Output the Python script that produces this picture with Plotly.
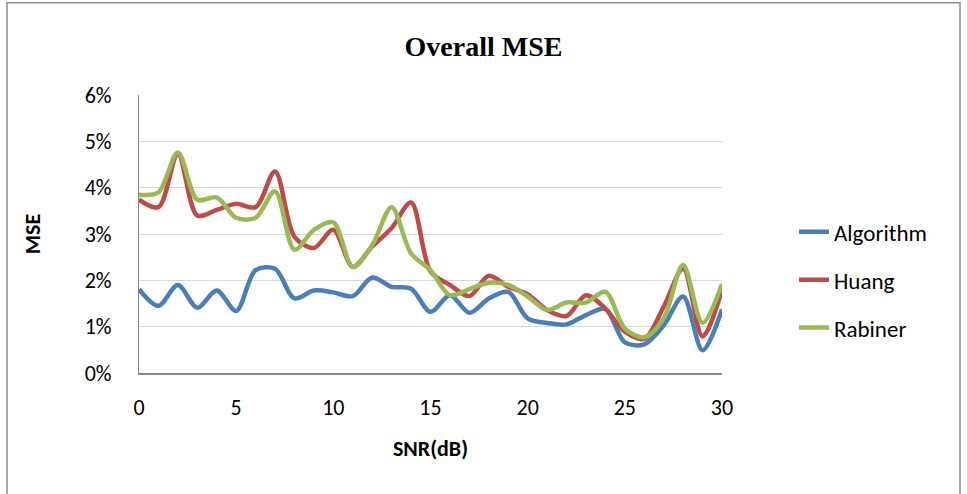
import plotly.graph_objects as go

# SNR sweep (dB)
snr = list(range(0, 31))

# Mean squared error (%) per method
algorithm = [1.81, 1.45, 1.90, 1.41, 1.78, 1.34, 2.22, 2.25, 1.61, 1.78,
             1.74, 1.66, 2.06, 1.86, 1.82, 1.32, 1.68, 1.30, 1.61, 1.75,
             1.18, 1.08, 1.05, 1.25, 1.38, 0.66, 0.62, 1.03, 1.65, 0.49, 1.37]
huang = [3.74, 3.58, 4.72, 3.40, 3.52, 3.65, 3.58, 4.35, 2.94, 2.70,
         3.09, 2.29, 2.73, 3.13, 3.68, 2.19, 1.90, 1.66, 2.10, 1.86,
         1.70, 1.36, 1.23, 1.68, 1.39, 0.89, 0.74, 1.43, 2.25, 0.79, 1.80]
rabiner = [3.85, 3.90, 4.76, 3.74, 3.79, 3.35, 3.35, 3.92, 2.66, 3.09,
           3.25, 2.29, 2.76, 3.58, 2.58, 2.22, 1.68, 1.81, 1.95, 1.90,
           1.65, 1.36, 1.52, 1.52, 1.75, 0.96, 0.77, 1.18, 2.33, 1.08, 1.92]

series = [("Algorithm", algorithm, "#4A7EBB"),
          ("Huang", huang, "#BE4B48"),
          ("Rabiner", rabiner, "#98B954")]

body_font = "Carlito, Lato, 'Open Sans', sans-serif"

fig = go.Figure()
for i, (name, vals, color) in enumerate(series):
    fig.add_trace(go.Scatter(
        x=snr, y=vals, name=name, mode="lines", legendgroup=f"g{i}",
        line=dict(color=color, width=4.5, shape="spline", smoothing=0.9),
    ))

fig.update_layout(
    width=967, height=494,
    margin=dict(l=139, r=245, t=95, b=121),
    paper_bgcolor="white", plot_bgcolor="white",
    title=dict(text="<b>Overall MSE</b>", x=0.5, xref="container", xanchor="center",
               y=1 - 46 / 494, yref="container", yanchor="middle",
               font=dict(family="'Liberation Serif', serif", size=28, color="black")),
    font=dict(family=body_font, size=22, color="black"),
    showlegend=True,
    legend=dict(x=1.1235, y=0.335, xanchor="left", yanchor="middle",
                font=dict(size=23, color="black"), tracegroupgap=15,
                bgcolor="rgba(0,0,0,0)"),
    xaxis=dict(range=[0, 30], tickvals=[0, 5, 10, 15, 20, 25, 30],
               showgrid=False, zeroline=False, showline=True,
               linecolor="#868686", linewidth=2, ticks="",
               ticklabelstandoff=14,
               title=dict(text="<b>SNR(dB)</b>", font=dict(size=22), standoff=20)),
    yaxis=dict(range=[0, 6], dtick=1, ticksuffix="%",
               showgrid=True, gridcolor="#D9D9D9", gridwidth=1.2,
               zeroline=False, showline=True, linecolor="#868686", linewidth=1,
               ticks="", ticklabelstandoff=22,
               title=dict(text="<b>MSE</b>", font=dict(size=22), standoff=38)),
    shapes=[dict(type="rect", xref="paper", yref="paper",
                 x0=-132 / 583, x1=821 / 583, y0=-200 / 277, y1=369 / 277,
                 line=dict(color="#8C8C8C", width=1.5), fillcolor="rgba(0,0,0,0)",
                 layer="below")],
)

fig.write_html("out.html")
